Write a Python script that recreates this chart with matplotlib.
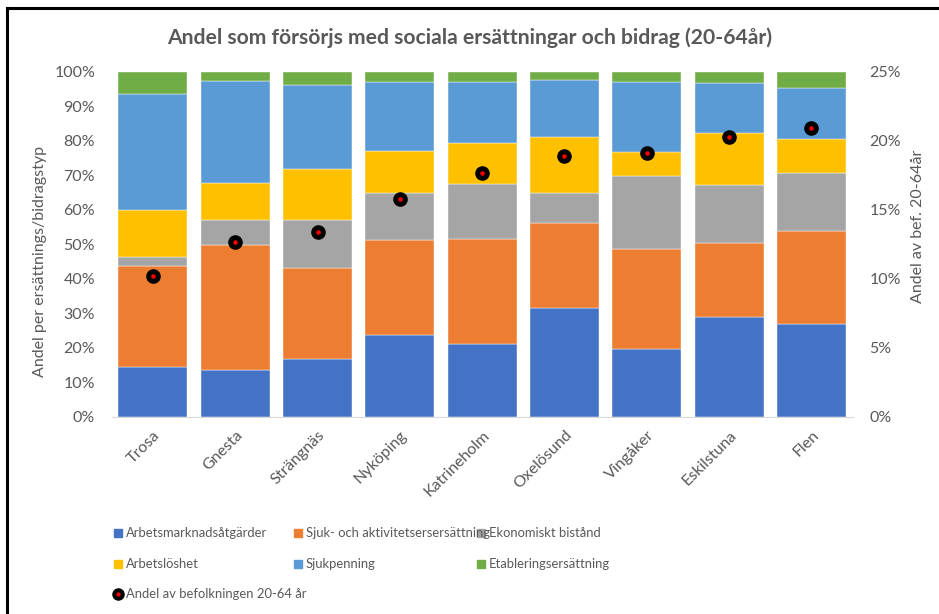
import matplotlib
matplotlib.use("Agg")
from matplotlib import pyplot as plt
from matplotlib.patches import Rectangle
from matplotlib.lines import Line2D
from matplotlib.ticker import PercentFormatter

kommuner = ["Trosa", "Gnesta", "Strängnäs", "Nyköping", "Katrineholm",
            "Oxelösund", "Vingåker", "Eskilstuna", "Flen"]

# andel per ersättningstyp (%), staplade nerifrån och upp
arbetsmarknad = [14.4, 13.6, 16.8, 23.8, 21.1, 31.6, 19.8, 28.9, 27.0]
sjuk_aktivitet = [29.4, 36.2, 26.4, 27.5, 30.4, 24.5, 28.8, 21.5, 26.8]
ekonomiskt = [2.6, 7.3, 13.9, 13.6, 15.9, 8.8, 21.3, 16.8, 16.8]
arbetsloshet = [13.7, 10.7, 14.6, 12.3, 11.9, 16.1, 6.8, 15.0, 9.9]
sjukpenning = [33.6, 29.5, 24.4, 19.9, 17.8, 16.6, 20.4, 14.6, 14.8]
etablering = [6.3, 2.7, 3.9, 2.9, 2.9, 2.4, 2.9, 3.2, 4.7]

# andel av befolkningen 20-64 år (%), höger axel
andel_bef = [10.2, 12.7, 13.4, 15.8, 17.7, 18.9, 19.1, 20.3, 20.9]

serier = [
    ("Arbetsmarknadsåtgärder", arbetsmarknad, "#4472C4"),
    ("Sjuk- och aktivitetsersersättning", sjuk_aktivitet, "#ED7D31"),
    ("Ekonomiskt bistånd", ekonomiskt, "#A5A5A5"),
    ("Arbetslöshet", arbetsloshet, "#FFC000"),
    ("Sjukpenning", sjukpenning, "#5B9BD5"),
    ("Etableringsersättning", etablering, "#70AD47"),
]

plt.rcParams["font.family"] = ["Lato", "DejaVu Sans"]
grey = "#595959"

fig = plt.figure(figsize=(9.39, 6.14), dpi=100)
ax = fig.add_axes([0.119, 0.321, 0.789, 0.562])

xs = list(range(len(kommuner)))
bottom = [0.0] * len(kommuner)
for namn, vals, farg in serier:
    ax.bar(xs, vals, width=0.84, bottom=bottom, color=farg, label=namn,
           edgecolor="white", linewidth=0.3)
    bottom = [b + v for b, v in zip(bottom, vals)]

ax.set_xlim(-0.5, len(kommuner) - 0.5)
ax.set_ylim(0, 100)
ax.set_yticks(range(0, 101, 10))
ax.yaxis.set_major_formatter(PercentFormatter(decimals=0))
ax.set_xticks(xs)
ax.set_xticklabels(kommuner, rotation=45, ha="right", rotation_mode="anchor")
ax.tick_params(axis="both", length=0, colors=grey, labelsize=11.5)
ax.tick_params(axis="y", pad=12)
ax.tick_params(axis="x", pad=8)
for s in ["top", "right", "left"]:
    ax.spines[s].set_visible(False)
ax.spines["bottom"].set_color("#D9D9D9")

ax2 = ax.twinx()
ax2.scatter(xs, andel_bef, s=90, color="black", zorder=5)
ax2.scatter(xs, andel_bef, s=5, color="red", zorder=6)
ax2.set_ylim(0, 25)
ax2.set_yticks(range(0, 26, 5))
ax2.yaxis.set_major_formatter(PercentFormatter(decimals=0))
ax2.tick_params(axis="y", length=0, colors=grey, labelsize=11.5, pad=12)
for s in ax2.spines.values():
    s.set_visible(False)

fig.text(0.5, 0.938, "Andel som försörjs med sociala ersättningar och bidrag (20-64år)",
         ha="center", va="center", fontsize=15.2, fontweight="bold", color=grey)
fig.text(0.043, 0.575, "Andel per ersättnings/bidragstyp", rotation=90,
         ha="center", va="center", fontsize=11.5, color=grey)
fig.text(0.978, 0.632, "Andel av bef. 20-64år", rotation=90,
         ha="center", va="center", fontsize=11.5, color=grey)

# legend, placerad som i Excel
W, H = 939, 614
kol = [118, 298, 481]
rader = [533, 564, 594]
poster = [(0, 0, 0), (1, 0, 1), (2, 0, 2), (3, 1, 0), (4, 1, 1), (5, 1, 2)]
for i, r, k in poster:
    namn, _, farg = serier[i]
    fig.add_artist(Rectangle(((kol[k] - 4) / W, 1 - (rader[r] + 4) / H), 8 / W, 8 / H,
                             transform=fig.transFigure, color=farg))
    fig.text((kol[k] + 8) / W, 1 - rader[r] / H, namn, ha="left", va="center",
             fontsize=9.4, color=grey)
fig.add_artist(Line2D([kol[0] / W], [1 - rader[2] / H], marker="o", markersize=8,
                      color="black", transform=fig.transFigure))
fig.add_artist(Line2D([kol[0] / W], [1 - rader[2] / H], marker="o", markersize=2,
                      color="red", transform=fig.transFigure))
fig.text((kol[0] + 8) / W, 1 - rader[2] / H, "Andel av befolkningen 20-64 år",
         ha="left", va="center", fontsize=9.4, color=grey)

# ram
fig.add_artist(Line2D([7 / W, 7 / W], [0, 1 - 8 / H], color="black", linewidth=2.2,
                      transform=fig.transFigure))
fig.add_artist(Line2D([7 / W, 1], [1 - 8 / H, 1 - 8 / H], color="black", linewidth=2.2,
                      transform=fig.transFigure))

fig.savefig("out.png", dpi=100)
